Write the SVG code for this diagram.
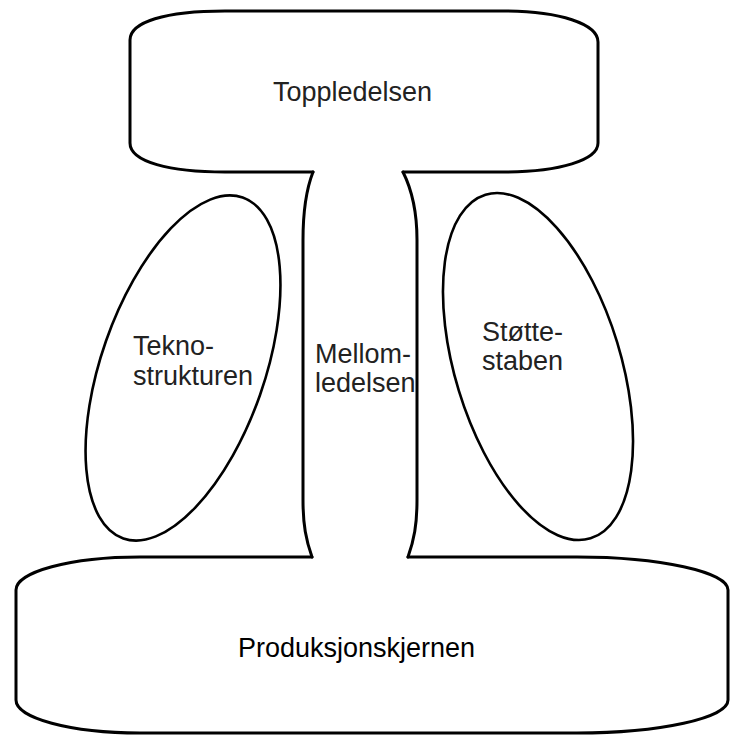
<svg xmlns="http://www.w3.org/2000/svg" width="730" height="735" viewBox="0 0 730 735">
  <style>
    .outline { fill: none; stroke: #000; stroke-width: 3; stroke-linejoin: round; stroke-linecap: round; }
    .oval { fill: none; stroke: #000; stroke-width: 2.6; }
    .label { font-family: "Liberation Sans", Arial, Helvetica, sans-serif; font-size: 27px; fill: #222; }
    .core { fill: #000; }
  </style>
  <rect width="730" height="735" fill="#fff"/>

  <!-- Strategic apex -->
  <g id="toppledelsen">
    <path class="outline" d="M313,172 L225,172 C170,172 130,162 130,143 L130,40 C130,22 165,11 225,11 L503,11 C560,11 598,24 598,42 L598,143 C598,160 560,172 503,172 L403,172"/>
    <text class="label" x="273" y="101">Toppledelsen</text>
  </g>

  <!-- Middle line -->
  <g id="mellomledelsen">
    <path class="outline" d="M313,172 C306,190 303,210 303,240 L303,500 C303,525 306,540 312,557"/>
    <path class="outline" d="M403,172 C412,190 417,210 417,240 L417,500 C417,525 414,540 408,557"/>
    <text class="label" x="315" y="362.5">Mellom-</text>
    <text class="label" x="315" y="392">ledelsen</text>
  </g>

  <!-- Operating core -->
  <g id="produksjonskjernen">
    <path class="outline" d="M312,557 L140,557 C70,557 16,572 16,590 L16,700 C16,718 70,733 140,733 L577,733 C660,733 728,718 728,700 L728,590 C728,572 660,557 577,557 L408,557"/>
    <text class="label core" x="238" y="657">Produksjonskjernen</text>
  </g>

  <!-- Technostructure -->
  <g id="teknostrukturen">
    <ellipse class="oval" cx="183" cy="368" rx="81.6" ry="180.6" transform="rotate(19.3 183 368)"/>
    <text class="label" x="133" y="355">Tekno-</text>
    <text class="label" x="133" y="385">strukturen</text>
  </g>

  <!-- Support staff -->
  <g id="stottestaben">
    <ellipse class="oval" cx="538" cy="366.5" rx="82.8" ry="179.7" transform="rotate(-17 538 366.5)"/>
    <text class="label" x="482" y="341">Støtte-</text>
    <text class="label" x="482" y="370">staben</text>
  </g>

  <g id="connectors"/>
</svg>
